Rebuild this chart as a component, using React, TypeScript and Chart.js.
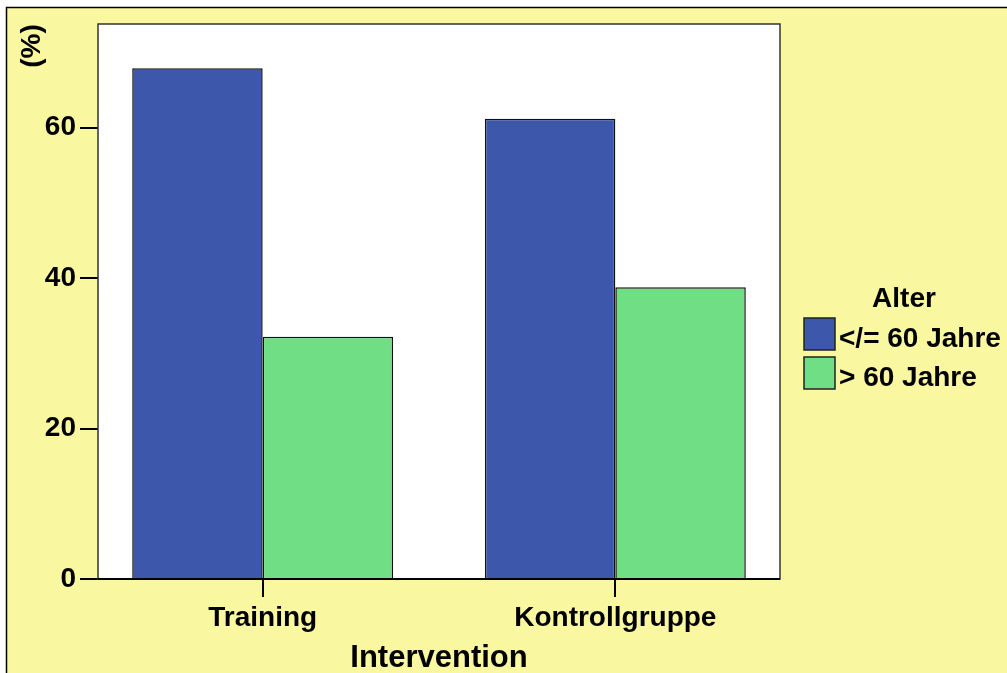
import React, { useEffect, useRef } from "react";
import { Chart, registerables } from "chart.js";

Chart.register(...registerables);

const categories = ["Training", "Kontrollgruppe"];
const categoryPositions = [1, 2];
const seriesLabels = ["</= 60 Jahre", "> 60 Jahre"];
const youngerValues = [67.9, 61.2];
const olderValues = [32.2, 38.8];
const yTicks = [0, 20, 40, 60];
const yTitle = "(%)";
const xTitle = "Intervention";
const legendTitle = "Alter";

const BLUE = "#3D57AA";
const GREEN = "#70DE85";
const YELLOW = "#FAF7A1";
const FONT = "'Liberation Sans', Arial, sans-serif";

const decorPlugin = {
  id: "decor",
  beforeDraw(chart: any) {
    const { ctx, width, height, chartArea } = chart;
    ctx.save();
    ctx.fillStyle = "#ffffff";
    ctx.fillRect(0, 0, width, height);
    ctx.fillStyle = YELLOW;
    ctx.fillRect(6, 7, width - 6, height - 7);
    ctx.strokeStyle = "#000";
    ctx.lineWidth = 1.5;
    ctx.beginPath();
    ctx.moveTo(6.5, height);
    ctx.lineTo(6.5, 7.5);
    ctx.lineTo(width, 7.5);
    ctx.stroke();
    ctx.fillStyle = "#ffffff";
    ctx.fillRect(chartArea.left, chartArea.top, chartArea.right - chartArea.left, chartArea.bottom - chartArea.top);
    ctx.restore();
  },
  afterDatasetsDraw(chart: any) {
    const { ctx, chartArea } = chart;
    ctx.save();
    ctx.strokeStyle = "#333";
    ctx.lineWidth = 1.5;
    ctx.strokeRect(chartArea.left, chartArea.top, chartArea.right - chartArea.left, chartArea.bottom - chartArea.top);
    ctx.strokeStyle = "#000";
    ctx.lineWidth = 2;
    ctx.beginPath();
    ctx.moveTo(chartArea.left, chartArea.bottom);
    ctx.lineTo(chartArea.right, chartArea.bottom);
    ctx.stroke();
    ctx.restore();
  },
  afterDraw(chart: any) {
    const { ctx, chartArea } = chart;
    ctx.save();
    ctx.fillStyle = "#000";
    ctx.font = `bold 28px ${FONT}`;
    ctx.translate(32, 46);
    ctx.rotate(-Math.PI / 2);
    ctx.textAlign = "center";
    ctx.textBaseline = "middle";
    ctx.fillText(yTitle, 0, 0);
    ctx.restore();

    ctx.save();
    ctx.fillStyle = "#000";
    ctx.font = `bold 31px ${FONT}`;
    ctx.textAlign = "center";
    ctx.textBaseline = "alphabetic";
    ctx.fillText(xTitle, (chartArea.left + chartArea.right) / 2, 667);

    ctx.font = `bold 28px ${FONT}`;
    ctx.fillText(legendTitle, 904, 307);
    const colors = chart.data.datasets.map((d: any) => d.backgroundColor);
    const labels = chart.data.datasets.map((d: any) => d.label);
    const boxTops = [318, 357];
    const baselines = [347, 386];
    ctx.textAlign = "left";
    for (let i = 0; i < labels.length; i++) {
      ctx.fillStyle = colors[i];
      ctx.fillRect(804, boxTops[i], 31, 32);
      ctx.strokeStyle = "#222";
      ctx.lineWidth = 1.5;
      ctx.strokeRect(804, boxTops[i], 31, 32);
      ctx.fillStyle = "#000";
      ctx.fillText(labels[i], 839, baselines[i]);
    }
    ctx.restore();
  },
};

export default function App() {
  const ref = useRef<HTMLCanvasElement | null>(null);
  useEffect(() => {
    if (!ref.current) return;
    const chart = new Chart(ref.current, {
      type: "bar",
      data: {
        datasets: [
          {
            label: seriesLabels[0],
            data: categoryPositions.map((x, i) => ({ x, y: youngerValues[i] })),
            backgroundColor: BLUE,
            borderColor: "#111",
            borderWidth: 1.5,
          },
          {
            label: seriesLabels[1],
            data: categoryPositions.map((x, i) => ({ x, y: olderValues[i] })),
            backgroundColor: GREEN,
            borderColor: "#111",
            borderWidth: 1.5,
          },
        ],
      },
      options: {
        animation: false,
        responsive: false,
        maintainAspectRatio: false,
        layout: { padding: { left: 0, right: 227, top: 24, bottom: 0 } },
        datasets: { bar: { categoryPercentage: 0.74, barPercentage: 1 } },
        plugins: { legend: { display: false }, tooltip: { enabled: false }, title: { display: false } },
        scales: {
          x: {
            type: "linear",
            min: 0.533,
            max: 2.467,
            offset: false,
            afterBuildTicks: (scale: any) => {
              scale.ticks = categoryPositions.map((v) => ({ value: v }));
            },
            afterFit: (scale: any) => {
              scale.height = 94;
            },
            ticks: {
              autoSkip: false,
              maxRotation: 0,
              color: "#000",
              padding: 4,
              font: { family: FONT, size: 28, weight: "bold" },
              callback: (v: any) => {
                const i = categoryPositions.indexOf(Number(v));
                return i >= 0 ? categories[i] : "";
              },
            },
            grid: { offset: false, drawOnChartArea: false, drawTicks: true, tickLength: 18, color: "#000", lineWidth: 2 },
            border: { display: false },
          },
          y: {
            type: "linear",
            min: 0,
            max: 73.8,
            afterBuildTicks: (scale: any) => {
              scale.ticks = yTicks.map((v) => ({ value: v }));
            },
            afterFit: (scale: any) => {
              scale.width = 98;
            },
            ticks: {
              color: "#000",
              padding: 4,
              font: { family: FONT, size: 28, weight: "bold" },
            },
            grid: { drawOnChartArea: false, drawTicks: true, tickLength: 18, color: "#000", lineWidth: 2 },
            border: { display: false },
          },
        },
      },
      plugins: [decorPlugin],
    } as any);
    return () => chart.destroy();
  }, []);
  return (
    <div style={{ position: "absolute", left: 0, top: 0, width: 1007, height: 673 }}>
      <canvas ref={ref} width={1007} height={673} style={{ display: "block", width: 1007, height: 673 }} />
    </div>
  );
}
